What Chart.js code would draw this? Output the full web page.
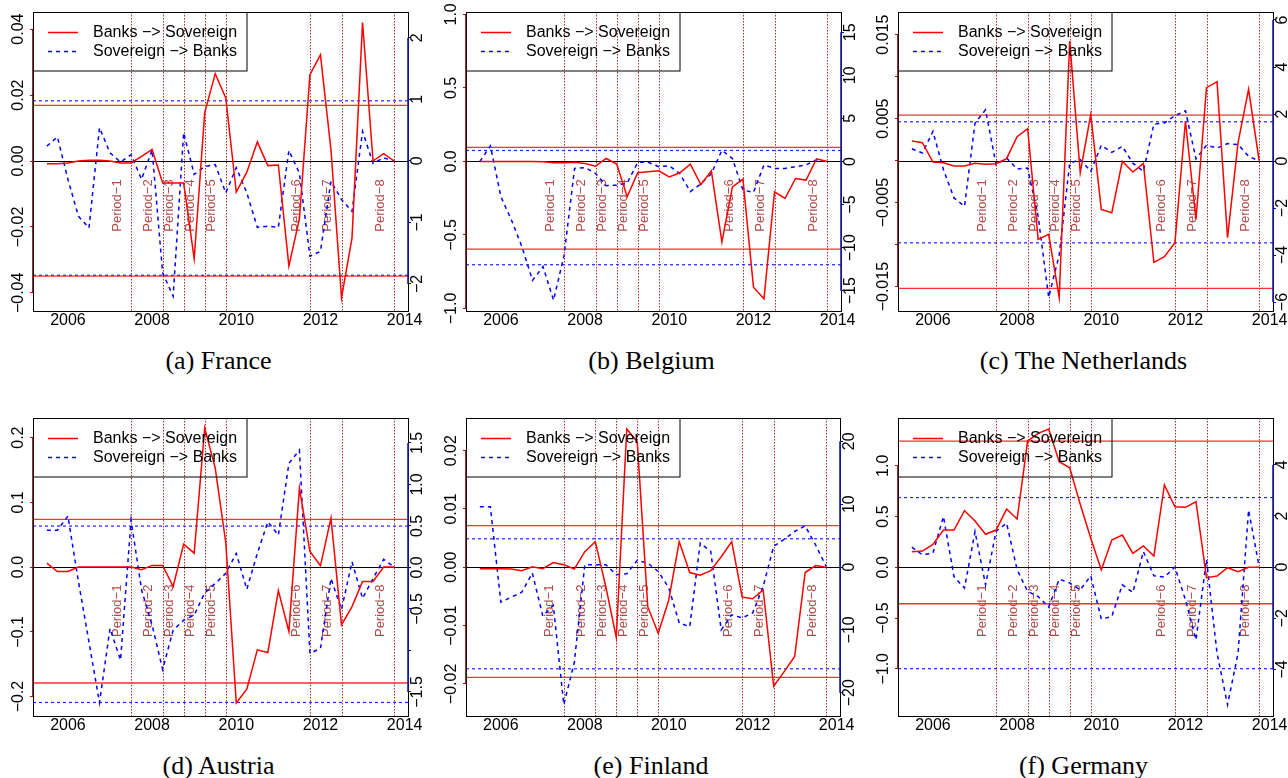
<!DOCTYPE html>
<html>
<head>
<meta charset="utf-8">
<script src="https://cdn.jsdelivr.net/npm/chart.js@4.4.1/dist/chart.umd.min.js"></script>
<style>
html,body{margin:0;padding:0;background:#fff;}
body{width:1288px;height:778px;position:relative;overflow:hidden;}
canvas{position:absolute;}
.cap{position:absolute;width:400px;height:30px;line-height:30px;text-align:center;white-space:nowrap;
  font-family:'Liberation Serif','Times New Roman',Times,serif;font-size:26px;color:#000;}
</style>
</head>
<body>
<canvas id="pa"></canvas><canvas id="pb"></canvas><canvas id="pc"></canvas>
<canvas id="pd"></canvas><canvas id="pe"></canvas><canvas id="pf"></canvas>
<script>
// ---------------- DATA ----------------
const quarters = [2005.5, 2005.75, 2006.0, 2006.25, 2006.5, 2006.75, 2007.0, 2007.25, 2007.5, 2007.75,
  2008.0, 2008.25, 2008.5, 2008.75, 2009.0, 2009.25, 2009.5, 2009.75, 2010.0, 2010.25,
  2010.5, 2010.75, 2011.0, 2011.25, 2011.5, 2011.75, 2012.0, 2012.25, 2012.5, 2012.75,
  2013.0, 2013.25, 2013.5, 2013.75];
const periodDates = [2007.5, 2008.25, 2008.75, 2009.25, 2009.75, 2011.75, 2012.5, 2013.75];
const periodLabels = ['Period\u22121','Period\u22122','Period\u22123','Period\u22124','Period\u22125','Period\u22126','Period\u22127','Period\u22128'];
const xTickValues = [2006, 2008, 2010, 2012, 2014];
const xTickLabels = ['2006', '2008', '2010', '2012', '2014'];
const legendLabels = ['Banks \u2212> Sovereign', 'Sovereign \u2212> Banks'];
const captions = ['(a) France', '(b) Belgium', '(c) The Netherlands', '(d) Austria', '(e) Finland', '(f) Germany'];

// France
const franceBanksToSov = [-0.0008,-0.0008,-0.0006,0,0.0002,0.0002,0,-0.0006,-0.0006,0.0014,0.0035,-0.0067,-0.0067,-0.0067,-0.0297,0.0147,0.0265,0.0191,-0.0094,-0.0034,0.0058,-0.0014,-0.0012,-0.0319,-0.0175,0.0262,0.0322,0.0034,-0.0415,-0.0233,0.0420,0.0,0.0022,0.0];
const franceSovToBanks = [0.24,0.39,-0.30,-0.90,-1.09,0.54,0.13,-0.02,0.10,-0.30,0.18,-1.82,-2.20,0.46,-0.22,-0.09,-0.06,-0.52,-0.11,-0.52,-1.08,-1.06,-1.08,0.17,-0.20,-1.55,-1.47,-0.33,-0.63,-0.82,0.48,-0.04,0.05,0.0];
const franceRedBand = [0.0169, -0.0349];
const franceBlueBand = [0.976, -1.859];
const franceLeftTicks = [-0.04, -0.02, 0, 0.02, 0.04];
const franceLeftLabels = ['\u22120.04', '\u22120.02', '0.00', '0.02', '0.04'];
const franceRightTicks = [-2, -1, 0, 1, 2];
const franceRightLabels = ['\u22122', '\u22121', '0', '1', '2'];

// Belgium
const belgiumBanksToSov = [0,0,0,0,0,0,-0.002,-0.009,-0.009,-0.005,-0.014,-0.032,0.02,-0.018,-0.24,-0.077,-0.070,-0.064,-0.105,-0.077,-0.018,-0.157,-0.064,-0.548,-0.173,-0.12,-0.855,-0.934,-0.207,-0.252,-0.116,-0.127,0.018,0];
const belgiumSovToBanks = [0,1.82,-4.1,-6.8,-9.9,-13.8,-12.2,-16.1,-10.9,-0.8,-0.7,-1.4,-2.8,-2.75,-2.5,-0.1,-0.1,-0.6,-0.5,-1.4,-3.5,-2.6,-1.4,1.3,0.35,-3.3,-3.6,-0.4,-0.8,-0.8,-0.6,-0.4,0.2,0];
const belgiumRedBand = [0.0955, -0.596];
const belgiumBlueBand = [1.28, -11.98];
const belgiumLeftTicks = [-1, -0.5, 0, 0.5, 1];
const belgiumLeftLabels = ['\u22121.0', '\u22120.5', '0.0', '0.5', '1.0'];
const belgiumRightTicks = [-15, -10, -5, 0, 5, 10, 15];
const belgiumRightLabels = ['\u221215', '\u221210', '\u22125', '0', '5', '10', '15'];

// The Netherlands
const netherlandsBanksToSov = [0.00234,0.00214,-0.00016,-0.00024,-0.00064,-0.00064,-0.00032,-0.00044,-0.00036,0.00024,0.00286,0.00381,-0.00937,-0.00877,-0.0163,0.01425,-0.00143,0.0055,-0.0058,-0.0062,-0.00008,-0.00135,-0.00032,-0.0121,-0.01143,-0.00977,0.00472,-0.007,0.0087,0.0094,-0.00917,0.00214,0.0085,0];
const netherlandsSovToBanks = [0.52,0.34,1.26,-0.37,-1.57,-1.93,1.62,2.18,-0.16,0.13,-0.34,-0.30,-2.35,-5.8,-4.0,-0.09,0.06,-0.44,0.67,0.37,0.62,-0.09,-0.44,1.57,1.62,1.93,2.14,0.09,0.67,0.55,0.74,0.70,0.20,0];
const netherlandsRedBand = [0.00543, -0.0152];
const netherlandsBlueBand = [1.67, -3.48];
const netherlandsLeftTicks = [-0.015, -0.01, -0.005, 0, 0.005, 0.01, 0.015];
const netherlandsLeftLabels = ['\u22120.015', '', '\u22120.005', '', '0.005', '', '0.015'];
const netherlandsRightTicks = [-6, -4, -2, 0, 2, 4, 6];
const netherlandsRightLabels = ['\u22126', '\u22124', '\u22122', '0', '2', '4', '6'];

// Austria
const austriaBanksToSov = [0.0062,-0.0068,-0.0068,0,0,0,0,0,0,-0.004,0.0026,0.0026,-0.030,0.0355,0.0216,0.2148,0.153,0.038,-0.210,-0.1886,-0.1278,-0.132,-0.0362,-0.0995,0.122,0.024,0.002,0.0757,-0.0892,-0.061,-0.0222,-0.0222,0,0];
const austriaSovToBanks = [0.449,0.449,0.618,-0.17,-0.90,-1.63,-0.735,-1.117,0.57,-0.273,-0.695,-1.229,-0.755,-0.635,-0.575,-0.306,-0.193,-0.072,0.169,-0.265,0.169,0.549,0.389,1.253,1.413,-1.036,-0.976,-0.133,-0.506,0.067,-0.373,-0.133,0.096,0.007];
const austriaRedBand = [0.0736, -0.179];
const austriaBlueBand = [0.498, -1.627];
const austriaLeftTicks = [-0.2, -0.1, 0, 0.1, 0.2];
const austriaLeftLabels = ['\u22120.2', '\u22120.1', '0.0', '0.1', '0.2'];
const austriaRightTicks = [-1.5, -1, -0.5, 0, 0.5, 1, 1.5];
const austriaRightLabels = ['\u22121.5', '', '\u22120.5', '0.0', '0.5', '1.0', '1.5'];

// Finland
const finlandBanksToSov = [-0.00024,-0.00024,-0.00024,-0.0003,-0.00058,0.0001,-0.00024,0.0008,0.00045,-0.0003,0.00268,0.0044,-0.0033,-0.012,0.0237,0.0215,-0.00675,-0.0113,-0.0056,0.0044,-0.0009,-0.00137,-0.00058,0.0018,0.0044,-0.0051,-0.0054,-0.0039,-0.0204,-0.0179,-0.0153,-0.0009,0.0003,0];
const finlandSovToBanks = [9.6,9.6,-5.6,-4.8,-4.0,-0.95,-7.8,-6.1,-21.9,-15.2,0.36,0.36,0.36,-1.22,-1.06,1.05,0.63,-0.7,-3.3,-8.9,-9.5,3.8,2.5,-10.0,-7.6,-8.1,-7.3,-3.1,3.3,4.4,5.65,6.55,3.5,0.1];
const finlandRedBand = [0.00713, -0.01887];
const finlandBlueBand = [4.49, -16.19];
const finlandLeftTicks = [-0.02, -0.01, 0, 0.01, 0.02];
const finlandLeftLabels = ['\u22120.02', '\u22120.01', '0.00', '0.01', '0.02'];
const finlandRightTicks = [-20, -10, 0, 10, 20];
const finlandRightLabels = ['\u221220', '\u221210', '0', '10', '20'];

// Germany
const germanyBanksToSov = [0.154,0.16,0.226,0.367,0.367,0.558,0.456,0.325,0.367,0.574,0.476,1.244,1.32,1.363,1.04,0.981,0.621,0.286,-0.027,0.269,0.318,0.138,0.21,0.111,0.811,0.597,0.591,0.646,-0.102,-0.086,-0.004,-0.043,0,0];
const germanySovToBanks = [0.78,0.48,0.55,1.98,-0.37,-0.82,1.39,-0.69,1.40,1.72,-0.1,-0.95,-1.15,-1.56,-0.47,-0.62,-0.89,-0.34,-2.03,-1.93,-0.69,-0.99,0.61,-0.34,-0.39,0,-1.28,-2.84,0.29,-3.36,-5.38,-3.36,2.23,0.02];
const germanyRedBand = [1.244, -0.359];
const germanyBlueBand = [2.72, -3.97];
const germanyLeftTicks = [-1, -0.5, 0, 0.5, 1];
const germanyLeftLabels = ['\u22121.0', '\u22120.5', '0.0', '0.5', '1.0'];
const germanyRightTicks = [-4, -2, 0, 2, 4];
const germanyRightLabels = ['\u22124', '\u22122', '0', '2', '4'];

// ---------------- LAYOUT ----------------
const FONT = "'Liberation Sans', Arial, Helvetica, sans-serif";
Chart.defaults.font.family = FONT;
Chart.defaults.font.size = 16;
Chart.defaults.color = '#000';

const panels = [
  {id:'pa', left:0,   top:0,   w:430, h:335, padTop:12, lw:33, rw:22, xh:24, lRange:[-0.0455,0.0452], rRange:[-2.44,2.42],
   red:franceBanksToSov, blue:franceSovToBanks, redBand:franceRedBand, blueBand:franceBlueBand,
   lT:franceLeftTicks, lL:franceLeftLabels, rT:franceRightTicks, rL:franceRightLabels, cap:captions[0]},
  {id:'pb', left:430, top:0,   w:430, h:335, padTop:12, lw:36, rw:19, xh:24, lRange:[-1.017,1.016], rRange:[-17.35,17.35],
   red:belgiumBanksToSov, blue:belgiumSovToBanks, redBand:belgiumRedBand, blueBand:belgiumBlueBand,
   lT:belgiumLeftTicks, lL:belgiumLeftLabels, rT:belgiumRightTicks, rL:belgiumRightLabels, cap:captions[1]},
  {id:'pc', left:860, top:0,   w:428, h:335, padTop:12, lw:38, rw:15, xh:24, lRange:[-0.0179,0.0177], rRange:[-6.38,6.34],
   red:netherlandsBanksToSov, blue:netherlandsSovToBanks, redBand:netherlandsRedBand, blueBand:netherlandsBlueBand,
   lT:netherlandsLeftTicks, lL:netherlandsLeftLabels, rT:netherlandsRightTicks, rL:netherlandsRightLabels, cap:captions[2]},
  {id:'pd', left:0,   top:395, w:430, h:345, padTop:23, lw:33, rw:22, xh:24, lRange:[-0.230,0.2303], rRange:[-1.79,1.80],
   red:austriaBanksToSov, blue:austriaSovToBanks, redBand:austriaRedBand, blueBand:austriaBlueBand,
   lT:austriaLeftTicks, lL:austriaLeftLabels, rT:austriaRightTicks, rL:austriaRightLabels, cap:captions[3]},
  {id:'pe', left:430, top:395, w:430, h:345, padTop:23, lw:36, rw:20, xh:24, lRange:[-0.0255,0.0256], rRange:[-23.7,23.7],
   red:finlandBanksToSov, blue:finlandSovToBanks, redBand:finlandRedBand, blueBand:finlandBlueBand,
   lT:finlandLeftTicks, lL:finlandLeftLabels, rT:finlandRightTicks, rL:finlandRightLabels, cap:captions[4]},
  {id:'pf', left:860, top:395, w:428, h:345, padTop:23, lw:38, rw:15, xh:24, lRange:[-1.465,1.471], rRange:[-5.82,5.83],
   red:germanyBanksToSov, blue:germanySovToBanks, redBand:germanyRedBand, blueBand:germanyBlueBand,
   lT:germanyLeftTicks, lL:germanyLeftLabels, rT:germanyRightTicks, rL:germanyRightLabels, cap:captions[5]}
];

function hline(ctx, x1, x2, y){ ctx.beginPath(); ctx.moveTo(x1, y); ctx.lineTo(x2, y); ctx.stroke(); }
function vline(ctx, x, y1, y2){ ctx.beginPath(); ctx.moveTo(x, y1); ctx.lineTo(x, y2); ctx.stroke(); }

const decor = {
  id: 'decor',
  beforeDatasetsDraw(chart, args, o) {
    const {ctx, chartArea: a, scales} = chart;
    const x = scales.x, yL = scales.yL, yR = scales.yR;
    ctx.save();
    ctx.beginPath(); ctx.rect(a.left, a.top, a.right - a.left, a.bottom - a.top); ctx.clip();
    // period lines
    ctx.strokeStyle = 'rgba(165,20,20,0.9)'; ctx.lineWidth = 1; ctx.setLineDash([1.5, 1.5]);
    periodDates.forEach(v => { const px = Math.round(x.getPixelForValue(v)) + 0.5; vline(ctx, px, a.top, a.bottom); });
    ctx.setLineDash([]);
    // period labels
    ctx.fillStyle = '#b04a4a'; ctx.font = '13px ' + FONT; ctx.textAlign = 'left'; ctx.textBaseline = 'middle';
    const ly = a.top + 0.735 * (a.bottom - a.top);
    periodDates.forEach((v, i) => {
      const px = x.getPixelForValue(v) - 14;
      ctx.save(); ctx.translate(px, ly); ctx.rotate(-Math.PI / 2); ctx.fillText(periodLabels[i], 0, 0); ctx.restore();
    });
    // zero line
    ctx.strokeStyle = '#000'; ctx.lineWidth = 1;
    hline(ctx, a.left, a.right, Math.round(yL.getPixelForValue(0)) + 0.5);
    // red thresholds (left axis)
    ctx.strokeStyle = '#ff3030'; ctx.lineWidth = 1.3;
    o.p.redBand.forEach(v => hline(ctx, a.left, a.right, yL.getPixelForValue(v)));
    // blue thresholds (right axis)
    ctx.strokeStyle = '#2222ff'; ctx.lineWidth = 1.2; ctx.setLineDash([3, 3]);
    o.p.blueBand.forEach(v => hline(ctx, a.left, a.right, yR.getPixelForValue(v)));
    ctx.restore();
  },
  afterDatasetsDraw(chart, args, o) {
    const {ctx, chartArea: a, scales} = chart;
    const yL = scales.yL, yR = scales.yR, p = o.p;
    ctx.save();
    // legend
    const lx = a.left, lt = a.top;
    ctx.strokeStyle = '#000'; ctx.lineWidth = 1;
    ctx.strokeRect(lx + 0.5, lt + 0.5, 213.5, 58.5);
    const ey = [lt + 20.5, lt + 39.5];
    ctx.lineWidth = 1.5; ctx.strokeStyle = '#ff0000';
    hline(ctx, lx + 15, lx + 45, ey[0]);
    ctx.strokeStyle = '#0000ff'; ctx.setLineDash([4, 4]);
    hline(ctx, lx + 15, lx + 45, ey[1]);
    ctx.setLineDash([]);
    ctx.fillStyle = '#000'; ctx.font = '16px ' + FONT; ctx.textAlign = 'left'; ctx.textBaseline = 'middle';
    ctx.fillText(legendLabels[0], lx + 60, ey[0]);
    ctx.fillText(legendLabels[1], lx + 60, ey[1]);
    // box
    ctx.strokeStyle = '#000'; ctx.lineWidth = 1;
    ctx.strokeRect(Math.round(a.left) + 0.5, Math.round(a.top) + 0.5, Math.round(a.right - a.left), Math.round(a.bottom - a.top));
    // axis lines
    ctx.lineWidth = 1.6;
    ctx.strokeStyle = '#4a0d0d';
    vline(ctx, a.left, yL.getPixelForValue(p.lT[p.lT.length - 1]), yL.getPixelForValue(p.lT[0]));
    ctx.strokeStyle = '#1c1ca8';
    vline(ctx, a.right, yR.getPixelForValue(p.rT[p.rT.length - 1]), yR.getPixelForValue(p.rT[0]));
    // y tick labels (rotated, parallel to axis)
    ctx.fillStyle = '#000'; ctx.font = '16px ' + FONT; ctx.textAlign = 'center'; ctx.textBaseline = 'middle';
    p.lT.forEach((v, i) => {
      if (!p.lL[i]) return;
      ctx.save(); ctx.translate(a.left - 14, yL.getPixelForValue(v)); ctx.rotate(-Math.PI / 2); ctx.fillText(p.lL[i], 0, 0); ctx.restore();
    });
    p.rT.forEach((v, i) => {
      if (!p.rL[i]) return;
      ctx.save(); ctx.translate(a.right + 10, yR.getPixelForValue(v)); ctx.rotate(-Math.PI / 2); ctx.fillText(p.rL[i], 0, 0); ctx.restore();
    });
    ctx.restore();
  }
};

function zeroPad(s){ s.paddingTop = 0; s.paddingBottom = 0; s.paddingLeft = 0; s.paddingRight = 0; }

panels.forEach(p => {
  const cv = document.getElementById(p.id);
  cv.width = p.w; cv.height = p.h;
  cv.style.left = p.left + 'px'; cv.style.top = p.top + 'px';
  cv.style.width = p.w + 'px'; cv.style.height = p.h + 'px';
  new Chart(cv, {
    type: 'line',
    data: {
      datasets: [
        {label: legendLabels[0], data: quarters.map((q, i) => ({x: q, y: p.red[i]})), yAxisID: 'yL',
         borderColor: '#ff0000', borderWidth: 1.5, pointRadius: 0, tension: 0, fill: false},
        {label: legendLabels[1], data: quarters.map((q, i) => ({x: q, y: p.blue[i]})), yAxisID: 'yR',
         borderColor: '#0000ff', borderWidth: 1.5, borderDash: [4, 4], pointRadius: 0, tension: 0, fill: false}
      ]
    },
    options: {
      responsive: false, animation: false, devicePixelRatio: 1,
      layout: {padding: {top: p.padTop, left: 0, right: 0, bottom: 0}, autoPadding: false},
      plugins: {legend: {display: false}, tooltip: {enabled: false}, decor: {p: p}},
      scales: {
        x: {type: 'linear', position: 'bottom', min: 2005.17, max: 2014.08, bounds: 'data',
            afterBuildTicks: s => { s.ticks = xTickValues.map(v => ({value: v})); },
            ticks: {autoSkip: false, maxRotation: 0, minRotation: 0, padding: 0, color: '#000', font: {size: 16},
                    callback: (v, i) => xTickLabels[i]},
            grid: {display: false, drawTicks: false}, border: {display: false},
            afterFit: s => { s.height = p.xh; zeroPad(s); }},
        yL: {type: 'linear', position: 'left', min: p.lRange[0], max: p.lRange[1], bounds: 'data',
             afterBuildTicks: s => { s.ticks = p.lT.map(v => ({value: v})); },
             ticks: {display: false},
             grid: {display: true, drawOnChartArea: false, drawTicks: true, tickLength: 3, tickColor: '#dd0000', color: '#dd0000', lineWidth: 1},
             border: {display: false},
             afterFit: s => { s.width = p.lw; zeroPad(s); }},
        yR: {type: 'linear', position: 'right', min: p.rRange[0], max: p.rRange[1], bounds: 'data',
             afterBuildTicks: s => { s.ticks = p.rT.map(v => ({value: v})); },
             ticks: {display: false},
             grid: {display: true, drawOnChartArea: false, drawTicks: true, tickLength: 3, tickColor: '#0000dd', color: '#0000dd', lineWidth: 1},
             border: {display: false},
             afterFit: s => { s.width = p.rw; zeroPad(s); }}
      }
    },
    plugins: [decor]
  });
  // caption
  const d = document.createElement('div');
  d.className = 'cap';
  d.textContent = p.cap;
  const cx = p.left + p.lw + (p.w - p.lw - p.rw) / 2 - 2;
  const cy = p.top + p.h - p.xh + 50;
  d.style.left = (cx - 200) + 'px';
  d.style.top = (cy - 15) + 'px';
  document.body.appendChild(d);
});
</script>
</body>
</html>
